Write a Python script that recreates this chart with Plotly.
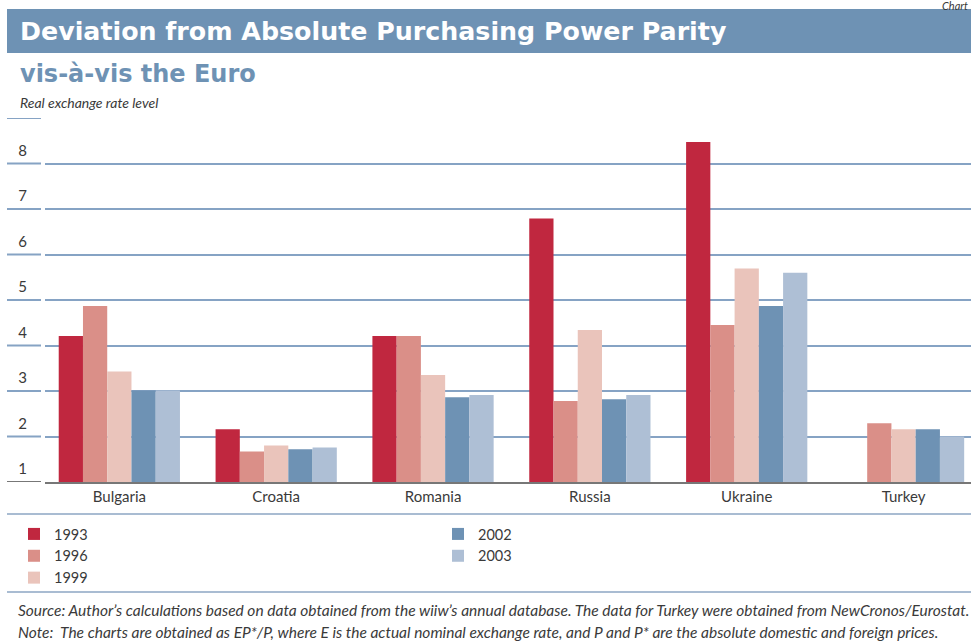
import plotly.graph_objects as go

countries = ["Bulgaria", "Croatia", "Romania", "Russia", "Ukraine", "Turkey"]
years = ["1993", "1996", "1999", "2002", "2003"]
v1993 = [4.21, 2.16, 4.21, 6.79, 8.47, None]
v1996 = [4.87, 1.67, 4.21, 2.78, 4.45, 2.29]
v1999 = [3.43, 1.80, 3.35, 4.34, 5.69, 2.16]
v2002 = [3.01, 1.72, 2.86, 2.82, 4.87, 2.16]
v2003 = [3.01, 1.76, 2.91, 2.91, 5.60, 2.00]
series = [v1993, v1996, v1999, v2002, v2003]
colors = ["#c0273f", "#da8f88", "#eac4bb", "#6e92b4", "#aebfd5"]
legend_ids = ["legend", "legend", "legend", "legend2", "legend2"]
ytick_vals = [1, 2, 3, 4, 5, 6, 7, 8, 9]
ytick_text = ["1", "2", "3", "4", "5", "6", "7", "8", ""]

W, H = 971, 642
ML, MR, MT, MB = 45, 0, 118, 160
PW, PH = W - ML - MR, H - MT - MB


def px(x):
    return (x - ML) / PW


def py(y):
    return (H - MB - y) / PH


FONT = "Lato"
TXT = "#3a3a3a"
BLUE = "#6e92b4"

fig = go.Figure()
for yr, vals, col, lg in zip(years, series, colors, legend_ids):
    fig.add_trace(go.Bar(x=countries, y=vals, name=yr, marker=dict(color=col, line=dict(width=0)),
                         legend=lg))

shapes = []
# title bar
shapes.append(dict(type="rect", xref="paper", yref="paper", x0=px(7), x1=px(980), y0=py(53), y1=py(9),
                   fillcolor=BLUE, line=dict(width=0), layer="below"))
# left short gridline segments
for v in ytick_vals:
    col = "#777777" if v == 1 else "#86a3c4"
    shapes.append(dict(type="line", xref="paper", yref="y", x0=px(7), x1=px(41), y0=v, y1=v,
                       line=dict(color=col, width=2)))
# separator lines
for yy in (514, 592):
    shapes.append(dict(type="line", xref="paper", yref="paper", x0=px(7), x1=px(980), y0=py(yy), y1=py(yy),
                       line=dict(color="#a9bcd2", width=2)))

annotations = [
    dict(text="Deviation from Absolute Purchasing Power Parity", xref="paper", yref="paper",
         x=px(18), y=py(32), xanchor="left", yanchor="middle", showarrow=False,
         font=dict(family="DejaVu Sans", size=25.3, color="white", weight="bold")),
    dict(text="vis-à-vis the Euro", xref="paper", yref="paper",
         x=px(18), y=py(74), xanchor="left", yanchor="middle", showarrow=False,
         font=dict(family="DejaVu Sans", size=24, color=BLUE, weight="bold")),
    dict(text="Real exchange rate level", xref="paper", yref="paper",
         x=px(18), y=py(103), xanchor="left", yanchor="middle", showarrow=False,
         font=dict(family=FONT, size=14, color=TXT, style="italic")),
    dict(text="Chart", xref="paper", yref="paper",
         x=px(970), y=py(5), xanchor="right", yanchor="middle", showarrow=False,
         font=dict(family=FONT, size=11, color=TXT, style="italic")),
    dict(text="Source: Author’s calculations based on data obtained from the wiiw’s annual database. The data for Turkey were obtained from NewCronos/Eurostat.",
         xref="paper", yref="paper", x=px(16), y=py(610), xanchor="left", yanchor="middle", showarrow=False,
         font=dict(family=FONT, size=15.5, color=TXT, style="italic")),
    dict(text="Note:  The charts are obtained as EP*/P, where E is the actual nominal exchange rate, and P and P* are the absolute domestic and foreign prices.",
         xref="paper", yref="paper", x=px(16), y=py(632), xanchor="left", yanchor="middle", showarrow=False,
         font=dict(family=FONT, size=15.5, color=TXT, style="italic")),
]

fig.update_layout(
    width=W, height=H,
    margin=dict(l=ML, r=MR, t=MT, b=MB, pad=0),
    paper_bgcolor="white", plot_bgcolor="white",
    barmode="group", bargap=0.227, bargroupgap=0,
    font=dict(family=FONT, size=15, color=TXT),
    shapes=shapes, annotations=annotations,
    xaxis=dict(type="category", range=[-0.474, 5.43], showline=True, linecolor="#777777", linewidth=2,
               ticks="", showgrid=False, tickfont=dict(size=15, color=TXT), ticklabelstandoff=0),
    yaxis=dict(range=[1, 9], tickmode="array", tickvals=ytick_vals, ticktext=ytick_text,
               showgrid=True, gridcolor="#86a3c4", gridwidth=2, zeroline=False, showline=False,
               ticks="", tickfont=dict(size=15, color=TXT), ticklabelshift=-13, ticklabelstandoff=17),
    legend=dict(x=px(14), y=py(518), xanchor="left", yanchor="top", orientation="v",
                font=dict(size=14.5, color=TXT), bgcolor="rgba(0,0,0,0)", tracegroupgap=0),
    legend2=dict(x=px(438), y=py(518), xanchor="left", yanchor="top", orientation="v",
                 font=dict(size=14.5, color=TXT), bgcolor="rgba(0,0,0,0)", tracegroupgap=0),
)

fig.write_html("out.html")
